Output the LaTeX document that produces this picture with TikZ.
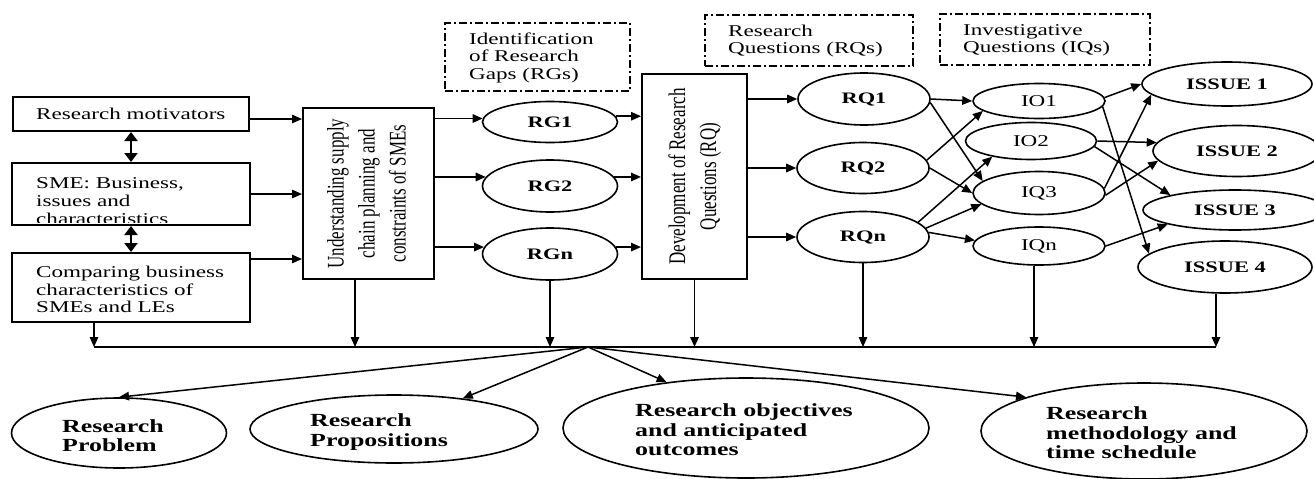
\documentclass[tikz,border=0pt]{standalone}
\usepackage{fontspec}
\setmainfont{Liberation Serif}[FakeStretch=1.4]
\newfontfamily\vfont{Liberation Serif}[FakeStretch=0.714]
\usetikzlibrary{arrows.meta,shapes.geometric,calc}
\tikzset{
  arr/.style={-{Triangle[length=10pt,width=8.5pt]}, line width=1.5pt},
  dbl/.style={{Triangle[length=9pt,width=13pt]}-{Triangle[length=9pt,width=13pt]}, line width=2pt},
  plain/.style={line width=1.5pt},
  box/.style={draw, line width=2pt, inner sep=0pt},
  oval/.style={draw, ellipse, line width=1.6pt, inner sep=0pt, font=\fontsize{16}{18}\selectfont\bfseries},
  ovalr/.style={oval, font=\fontsize{16.5}{18}\selectfont},
  gapbox/.style={draw, line width=1.6pt, dash pattern=on 8pt off 3pt on 2pt off 3pt, inner sep=0pt},
  ltxt/.style={inner sep=0pt, anchor=west, align=left, font=\fontsize{16.5}{17.5}\selectfont},
  btxt/.style={inner sep=0pt, anchor=west, align=left, font=\fontsize{18.5}{19.5}\selectfont\bfseries}
}
\begin{document}
\begin{tikzpicture}[x=1pt,y=-1pt]
\useasboundingbox (0,0) rectangle (1314,479);

% left boxes
\node[box, minimum width=236, minimum height=34] (mot) at (131,114) {};
\node[ltxt] (mott) at (36,114) {Research motivators};
\node[box, minimum width=238, minimum height=62] (sme) at (131,194) {};
\begin{scope}
  \clip (sme.north west) rectangle ([yshift=4pt]sme.south east);
  \node[ltxt, font=\fontsize{16.5}{18}\selectfont] (smet) at (36,201) {SME: Business,\\issues and\\characteristics};
\end{scope}
\node[box, minimum width=238, minimum height=69] (comp) at (131,287.5) {};
\node[ltxt] (compt) at (36,289.5) {Comparing business\\characteristics of\\SMEs and LEs};

\draw[dbl] (mot.south) -- (sme.north);
\draw[dbl] (sme.south) -- (comp.north);

% understanding box
\node[box, minimum width=131, minimum height=171] (und) at (368.5,193.5)
  {\rotatebox{90}{\vfont\fontsize{23.8}{31}\selectfont\begin{tabular}{@{}c@{}}Understanding supply\\chain planning and\\constraints of SMEs\end{tabular}}};

\draw[arr] (mot.east |- 0,119) -- (und.west |- 0,119);
\draw[arr] (sme.east |- 0,194) -- (und.west |- 0,194);
\draw[arr] (comp.east |- 0,259) -- (und.west |- 0,259);

% dashed header boxes
\node[gapbox, minimum width=185, minimum height=68] (gap1) at (537.5,57) {};
\node[ltxt] (gap1t) at (469,57.5) {Identification\\of Research\\Gaps (RGs)};
\node[gapbox, minimum width=208, minimum height=51] (gap2) at (809,40.5) {};
\node[ltxt] (gap2t) at (728,41) {Research\\Questions (RQs)};
\node[gapbox, minimum width=210, minimum height=51] (gap3) at (1045,39.5) {};
\node[ltxt] (gap3t) at (963,40.5) {Investigative\\Questions (IQs)};

% research gaps
\node[oval, minimum width=135, minimum height=41] (rg1) at (550,122) {RG1};
\node[oval, minimum width=135, minimum height=52] (rg2) at (550,186) {RG2};
\node[oval, minimum width=135, minimum height=52] (rgn) at (550,254) {RGn};

\draw[arr] (und.east |- rg1.177) -- (rg1.177);
\draw[arr] (und.east |- rg2.172) -- (rg2.172);
\draw[arr] (und.east |- rgn.174) -- (rgn.174);

% development box
\node[box, minimum width=105, minimum height=205] (dev) at (694.5,176.5)
  {\rotatebox{90}{\vfont\fontsize{23.8}{31}\selectfont\begin{tabular}{@{}c@{}}Development of Research\\Questions (RQ)\end{tabular}}};

\draw[arr] (rg1.5) -- (dev.west |- rg1.5);
\draw[arr] (rg2.8) -- (dev.west |- rg2.8);
\draw[arr] (rgn.6) -- (dev.west |- rgn.6);

% research questions
\node[oval, minimum width=132, minimum height=52] (rq1) at (864,99) {RQ1};
\node[oval, minimum width=132, minimum height=51] (rq2) at (863,168) {RQ2};
\node[oval, minimum width=132, minimum height=51] (rqn) at (863,237) {RQn};

\draw[arr] (dev.east |- rq1.west) -- (rq1.west);
\draw[arr] (dev.east |- rq2.west) -- (rq2.west);
\draw[arr] (dev.east |- rqn.west) -- (rqn.west);

% investigative questions
\node[ovalr, minimum width=132, minimum height=35] (iq1) at (1039,101) {IO1};
\node[ovalr, minimum width=131, minimum height=37] (iq2) at (1031,141) {IO2};
\node[ovalr, minimum width=132, minimum height=43] (iq3) at (1039,193) {IQ3};
\node[ovalr, minimum width=132, minimum height=38] (iqn) at (1039,246) {IQn};

\draw[arr] (rq1.east) -- (iq1.west);
\draw[arr] (rq1.-3) -- (iq3.168);
\draw[arr] (rq2.7) -- (iq1.190);
\draw[arr] (rq2.east) -- (iq3.west);
\draw[arr] (rqn.15) -- (iq2.202);
\draw[arr] (rqn.8) -- (iq3.191);
\draw[arr] (rqn.4) -- (iqn.175);

% issues
\node[oval, minimum width=170, minimum height=44] (is1) at (1227,84) {ISSUE 1};
\node[oval, minimum width=168, minimum height=51] (is2) at (1237,151) {ISSUE 2};
\node[oval, minimum width=184, minimum height=40] (is3) at (1235,210) {ISSUE 3};
\node[oval, minimum width=174, minimum height=52] (is4) at (1225,267) {ISSUE 4};

\draw[arr] (iq1.3) -- (is1.west);
\draw[arr] (iq1.-5) -- (is4.170);
\draw[arr] (iq2.east) -- (is2.174);
\draw[arr] (iq2.-5) -- (is3.167);
\draw[arr] (iq3.4) -- (is1.188);
\draw[arr] (iq3.-2) -- (is2.187);
\draw[arr] (iqn.east) -- (is3.192);

% bus
\coordinate (b1) at (94,347);
\coordinate (b2) at (355,347);
\coordinate (hub) at (588,347);
\coordinate (b6) at (1034,347);
\coordinate (b7) at (1216,347);
\draw[plain] (b1) -- (b7);
\draw[arr] (comp.south -| b1) -- (b1);
\draw[arr] (und.south -| b2) -- (b2);
\draw[arr] (rgn.south) -- (rgn.south |- hub);
\draw[arr] (dev.south) -- (dev.south |- hub);
\draw[arr] (rqn.south) -- (rqn.south |- hub);
\draw[arr] (iqn.south -| b6) -- (b6);
\draw[arr] (is4.south -| b7) -- (b7);

% outcomes
\node[oval, minimum width=215, minimum height=70] (prob) at (119,433) {};
\node[btxt] (probt) at (62,435.5) {Research\\Problem};
\node[oval, minimum width=288, minimum height=68] (prop) at (394,429) {};
\node[btxt] (propt) at (310,432) {Research\\Propositions};
\node[oval, minimum width=366, minimum height=100] (obj) at (746,428) {};
\node[btxt] (objt) at (635,430) {Research objectives\\and anticipated\\outcomes};
\node[oval, minimum width=326, minimum height=96] (meth) at (1144,431) {};
\node[btxt] (metht) at (1046,433) {Research\\methodology and\\time schedule};

\draw[arr] (hub) -- (prob.north);
\draw[arr] (hub) -- (prop.24);
\draw[arr] (hub) -- (obj.150);
\draw[arr] (hub) -- (meth.164);
\end{tikzpicture}
\end{document}
